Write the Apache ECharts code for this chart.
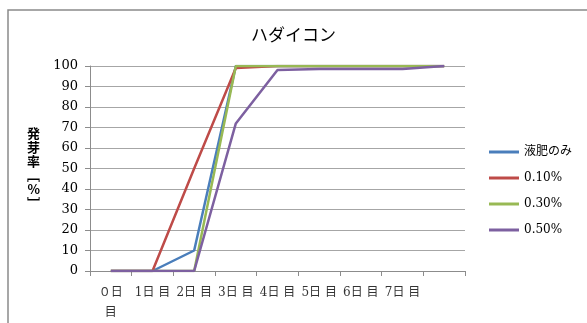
<!DOCTYPE html>
<html>
<head>
<meta charset="utf-8">
<script src="https://cdn.jsdelivr.net/npm/echarts@6/dist/echarts.min.js"></script>
<style>
  html, body { margin: 0; padding: 0; background: #fff; }
  #chart { width: 587px; height: 323px; }
</style>
</head>
<body>
<div id="chart"></div>
<script>
// 日数（最後の目盛はラベルなし）
var days = ['０日\n目', '1日 目', '2日 目', '3日 目', '4日 目', '5日 目', '6日 目', '7日 目', ''];
var seriesNames = ['液肥のみ', '0.10%', '0.30%', '0.50%'];
var ekihi = [0, 0, 10, 100, 100, 100, 100, 100, 100];
var p010 = [0, 0, 50, 99, 100, 100, 100, 100, 100];
var p030 = [0, 0, 0, 100, 100, 100, 100, 100, 100];
var p050 = [0, 0, 0, 72, 98, 98.5, 98.5, 98.5, 100];
var yTicks = [0, 10, 20, 30, 40, 50, 60, 70, 80, 90, 100];

var colors = ['#4a7ebb', '#be4b48', '#98b954', '#7d60a0'];
var serif = "'DejaVu Serif', 'Noto Sans CJK JP', serif";

var myChart = echarts.init(document.getElementById('chart'));
var allData = [ekihi, p010, p030, p050];
myChart.setOption({
    animation: false,
    color: colors,
    title: {
        text: 'ハダイコン',
        left: 'center',
        top: 21,
        textStyle: { fontFamily: "'Noto Sans CJK JP'", fontSize: 17, fontWeight: 'normal', color: '#000' }
    },
    graphic: [{
        type: 'rect',
        shape: { x: 8, y: 10, width: 620, height: 340 },
        style: { fill: 'none', stroke: '#8a8a8a', lineWidth: 1.5 }
    }],
    legend: {
        orient: 'vertical',
        left: 484,
        top: 140,
        icon: 'rect',
        itemWidth: 30,
        itemHeight: 3,
        itemGap: 12,
        data: seriesNames,
        textStyle: { fontFamily: serif, fontSize: 12, color: '#000', lineHeight: 14, height: 14 }
    },
    grid: { left: 90, right: 122, top: 66, bottom: 52 },
    xAxis: {
        type: 'category',
        data: days,
        boundaryGap: true,
        axisLine: { lineStyle: { color: '#8c8c8c' } },
        axisTick: { show: true, length: 5, lineStyle: { color: '#8c8c8c' } },
        axisLabel: {
            interval: 0,
            margin: 12,
            fontFamily: serif,
            fontSize: 12,
            lineHeight: 20,
            color: '#333'
        }
    },
    yAxis: {
        type: 'value',
        min: yTicks[0],
        max: yTicks[yTicks.length - 1],
        interval: 10,
        name: '発\n芽\n率\n﹇\n%\n﹈',
        nameLocation: 'middle',
        nameRotate: 0,
        nameGap: 50,
        nameTextStyle: { fontFamily: "'Noto Sans CJK JP'", fontSize: 13, fontWeight: 'bold', lineHeight: 14, color: '#000' },
        axisLine: { show: true, lineStyle: { color: '#8c8c8c' } },
        axisTick: { show: true, length: 5, lineStyle: { color: '#8c8c8c' } },
        splitLine: { lineStyle: { color: '#a6a6a6' } },
        axisLabel: { fontFamily: serif, fontSize: 13, color: '#000', margin: 12 }
    },
    series: seriesNames.map(function (n, i) {
        return {
            name: n,
            type: 'line',
            data: allData[i],
            symbol: 'none',
            lineStyle: { width: 2.5 }
        };
    })
});
</script>
</body>
</html>
